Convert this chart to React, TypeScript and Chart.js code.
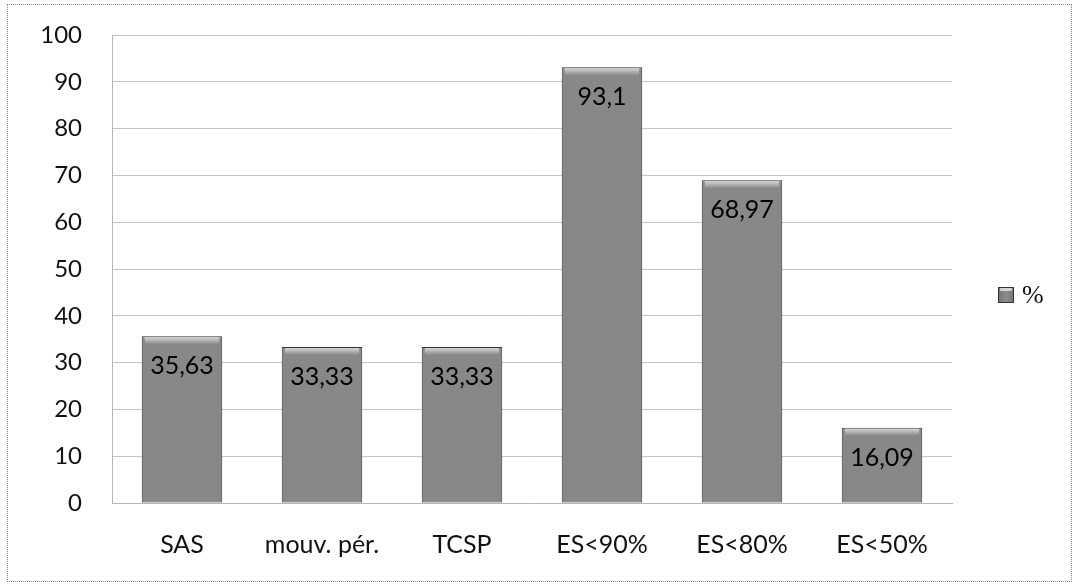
import React, { useEffect, useRef } from "react";
import { Chart, registerables } from "chart.js";

Chart.register(...registerables);

const categories = ["SAS", "mouv. pér.", "TCSP", "ES<90%", "ES<80%", "ES<50%"];
const seriesLabel = "%";
const values = [35.63, 33.33, 33.33, 93.1, 68.97, 16.09];
const yTicks = [0, 10, 20, 30, 40, 50, 60, 70, 80, 90, 100];

const fmt = (v: number) => String(v).replace(".", ",");

function barFill(ctx: CanvasRenderingContext2D, x0: number, x1: number) {
  const g = ctx.createLinearGradient(x0, 0, x1, 0);
  g.addColorStop(0, "#505050");
  g.addColorStop(0.08, "#777777");
  g.addColorStop(0.5, "#8c8c8c");
  g.addColorStop(0.92, "#777777");
  g.addColorStop(1, "#505050");
  return g;
}

const valueLabels = {
  id: "valueLabels",
  afterDatasetsDraw(chart: any) {
    const ctx = chart.ctx as CanvasRenderingContext2D;
    const meta = chart.getDatasetMeta(0);
    ctx.save();
    meta.data.forEach((el: any, i: number) => {
      const props = el.getProps(["x", "y", "width"], true);
      const hl = ctx.createLinearGradient(0, props.y, 0, props.y + 8);
      hl.addColorStop(0, "rgba(235,235,235,0.9)");
      hl.addColorStop(1, "rgba(235,235,235,0)");
      ctx.fillStyle = hl;
      ctx.fillRect(props.x - props.width / 2 + 3, props.y + 1, props.width - 6, 8);
      ctx.fillStyle = "#000";
      ctx.font = "25px Lato";
      ctx.textAlign = "center";
      ctx.textBaseline = "middle";
      ctx.fillText(fmt(values[i]), props.x, props.y + 30);
    });
    ctx.restore();
  },
};

const customLegend = {
  id: "customLegend",
  afterDraw(chart: any) {
    const ctx = chart.ctx as CanvasRenderingContext2D;
    const area = chart.chartArea;
    const x = area.right + 46;
    const y = 295;
    ctx.save();
    ctx.fillStyle = barFill(ctx, x, x + 16);
    ctx.fillRect(x, y - 8, 16, 16);
    ctx.fillStyle = "rgba(230,230,230,0.8)";
    ctx.fillRect(x + 2, y - 7, 12, 3);
    ctx.strokeStyle = "#333";
    ctx.lineWidth = 1;
    ctx.strokeRect(x + 0.5, y - 7.5, 15, 15);
    ctx.fillStyle = "#111";
    ctx.font = "26px 'Liberation Serif'";
    ctx.textAlign = "left";
    ctx.textBaseline = "middle";
    ctx.fillText(chart.data.datasets[0].label, x + 24, y + 1);
    ctx.restore();
  },
};

export default function App() {
  const ref = useRef<HTMLCanvasElement>(null);

  useEffect(() => {
    const canvas = ref.current!;
    const chart = new Chart(canvas, {
      type: "bar",
      data: {
        labels: categories,
        datasets: [
          {
            label: seriesLabel,
            data: values,
            backgroundColor: (c: any) => {
              const el = c.element;
              const ctx = c.chart.ctx;
              if (!el || el.width === undefined) return "#888";
              return barFill(ctx, el.x - el.width / 2, el.x + el.width / 2);
            },
            borderColor: "#333333",
            borderWidth: 1,
            borderSkipped: false,
            barPercentage: 0.575,
            categoryPercentage: 1,
          },
        ],
      },
      options: {
        responsive: false,
        animation: false,
        layout: { padding: { top: 35, right: 121, bottom: 0, left: 0 } },
        plugins: {
          legend: { display: false },
          tooltip: { enabled: false },
        },
        scales: {
          x: {
            grid: { display: false, drawTicks: false },
            border: { display: true, color: "#b5b5b5" },
            ticks: {
              padding: 27,
              color: "#111",
              font: { family: "Lato", size: 25 },
              maxRotation: 0,
              autoSkip: false,
            },
            afterFit: (s: any) => {
              s.height = 84;
            },
          },
          y: {
            min: 0,
            max: 100,
            afterBuildTicks: (s: any) => {
              s.ticks = yTicks.map((v) => ({ value: v }));
            },
            grid: { color: "#c4c4c4", drawTicks: true, tickLength: 30, tickColor: "rgba(0,0,0,0)" },
            border: { display: true, color: "#b5b5b5" },
            ticks: {
              padding: 0,
              color: "#111",
              font: { family: "Lato", size: 24 },
            },
            afterFit: (s: any) => {
              s.width = 112;
            },
          },
        },
      },
      plugins: [valueLabels, customLegend],
    });
    return () => chart.destroy();
  }, []);

  return (
    <div style={{ position: "absolute", left: 0, top: 0, width: 1073, height: 587, background: "#fff" }}>
      <canvas ref={ref} width={1073} height={587} style={{ position: "absolute", left: 0, top: 0 }} />
      <div
        style={{
          position: "absolute",
          left: 7,
          top: 4,
          width: 1063,
          height: 576,
          border: "1px dotted #8a8a8a",
          pointerEvents: "none",
        }}
      />
    </div>
  );
}
